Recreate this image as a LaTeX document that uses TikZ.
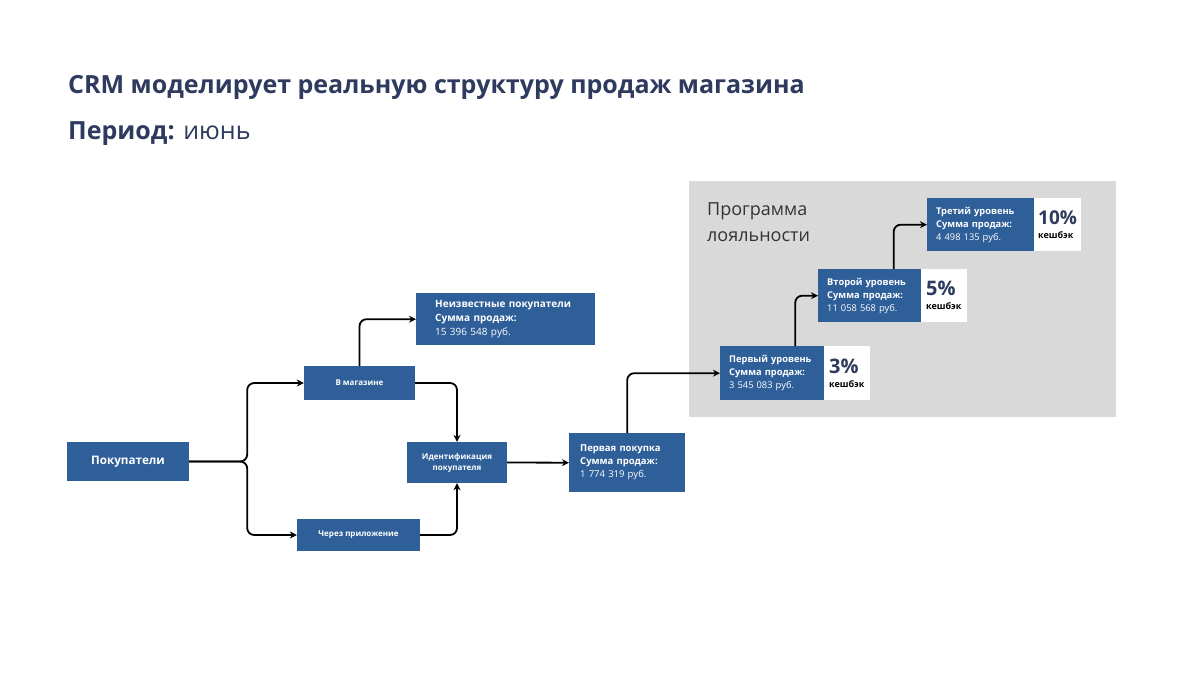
\documentclass[tikz,border=0pt]{standalone}
\usepackage{fontspec}
\setmainfont{Open Sans}
\usepackage{xcolor}
\usetikzlibrary{arrows.meta}

\definecolor{titleblue}{HTML}{2E3A5E}
\definecolor{boxblue}{HTML}{2F5F99}
\definecolor{loyalgray}{HTML}{D9D9D9}

\tikzset{
    bluebox/.style={fill=boxblue, text=white, font=\bfseries, inner sep=0pt, align=center},
    infobox/.style={fill=boxblue, text=white, inner sep=0pt, align=left, anchor=north west},
    cashbox/.style={fill=white, inner ysep=0pt, inner xsep=5pt, anchor=north west, align=left},
    link/.style={draw=black, line width=1.8pt, rounded corners=7pt, -{Stealth[length=7pt,width=7pt]}}
}

\begin{document}
\begin{tikzpicture}[x=1pt, y=-1pt]

    \useasboundingbox[fill=white] (0,0) rectangle (1200,675);

    % Titles
    \node[anchor=base west, inner sep=0pt, text=titleblue, font=\fontsize{25}{29}\selectfont\bfseries] (title) at (68,93) {CRM моделирует реальную структуру продаж магазина};
    \node[anchor=base west, inner sep=0pt, text=titleblue, font=\fontsize{25}{29}\selectfont] (period) at (68,139) {\textbf{Период:} июнь};

    % Loyalty programme area
    \fill[loyalgray] (689,181) rectangle (1116,417);
    \node[anchor=north west, inner sep=0pt, align=left, text=black!80, font=\fontsize{18}{26}\selectfont] (loyal) at (707,202) {Программа\\лояльности};

    % Customers
    \node[bluebox, minimum width=122pt, minimum height=39pt, font=\fontsize{11.7}{14}\selectfont\bfseries] (pok) at (128,461.5) {Покупатели};

    % Channels
    \node[bluebox, minimum width=111pt, minimum height=34pt, font=\fontsize{8}{10}\selectfont\bfseries] (mag) at (359.5,383) {В магазине};
    \node[bluebox, minimum width=123pt, minimum height=32pt, font=\fontsize{8}{10}\selectfont\bfseries] (cherez) at (358.5,535) {Через приложение};
    \node[bluebox, minimum width=100pt, minimum height=41pt, font=\fontsize{8}{11}\selectfont\bfseries] (ident) at (457,462.5) {Идентификация\\покупателя};

    % Unknown customers
    \node[infobox, minimum width=179pt, minimum height=52pt, text width=141pt, inner xsep=19pt, font=\fontsize{10}{14}\selectfont] (neiz) at (416,293) {\textbf{Неизвестные покупатели}\\\textbf{Сумма продаж:}\\15 396 548 руб.};

    % First purchase
    \node[infobox, minimum width=116pt, minimum height=59pt, text width=94pt, inner xsep=11pt, font=\fontsize{9.5}{13}\selectfont] (perv) at (569,433) {\textbf{Первая покупка}\\\textbf{Сумма продаж:}\\1 774 319 руб.};

    % First level
    \node[infobox, minimum width=104pt, minimum height=54pt, text width=86pt, inner xsep=9pt, font=\fontsize{9.3}{13}\selectfont] (lvl1) at (720,346) {\textbf{Первый уровень}\\\textbf{Сумма продаж:}\\3 545 083 руб.};
    \node[cashbox, minimum width=46pt, minimum height=54pt, text width=36pt] (cash1) at (824,346) {\textcolor{titleblue}{\fontsize{20}{22}\selectfont\bfseries 3\%}\\[2pt]{\fontsize{9}{10}\selectfont\bfseries кешбэк}};

    % Second level
    \node[infobox, minimum width=103pt, minimum height=53pt, text width=85pt, inner xsep=9pt, font=\fontsize{9.3}{13}\selectfont] (lvl2) at (818,269) {\textbf{Второй уровень}\\\textbf{Сумма продаж:}\\11 058 568 руб.};
    \node[cashbox, minimum width=46pt, minimum height=53pt, text width=36pt] (cash2) at (921,269) {\textcolor{titleblue}{\fontsize{20}{22}\selectfont\bfseries 5\%}\\[2pt]{\fontsize{9}{10}\selectfont\bfseries кешбэк}};

    % Third level
    \node[infobox, minimum width=107pt, minimum height=53pt, text width=89pt, inner xsep=9pt, font=\fontsize{9.3}{13}\selectfont] (lvl3) at (927,198) {\textbf{Третий уровень}\\\textbf{Сумма продаж:}\\4 498 135 руб.};
    \node[cashbox, minimum width=47pt, minimum height=53pt, text width=39pt, inner xsep=4pt] (cash3) at (1034,198) {\textcolor{titleblue}{\fontsize{19}{22}\selectfont\bfseries 10\%}\\[2pt]{\fontsize{9}{10}\selectfont\bfseries кешбэк}};

    % Connectors
    \draw[link] (pok.east) -- ++(58,0) |- (mag.west);
    \draw[link] (pok.east) -- ++(58,0) |- (cherez.west);
    \draw[link] (mag.north) |- (neiz.west);
    \draw[link] (mag.east) -| (ident.north);
    \draw[link] (cherez.east) -| (ident.south);
    \draw[link] (ident.east) -- (perv.west);
    \draw[link] (perv.north) |- (lvl1.west);
    \draw[link] ([xshift=23pt]lvl1.north) |- (lvl2.west);
    \draw[link] ([xshift=24pt]lvl2.north) |- (lvl3.west);

\end{tikzpicture}
\end{document}
